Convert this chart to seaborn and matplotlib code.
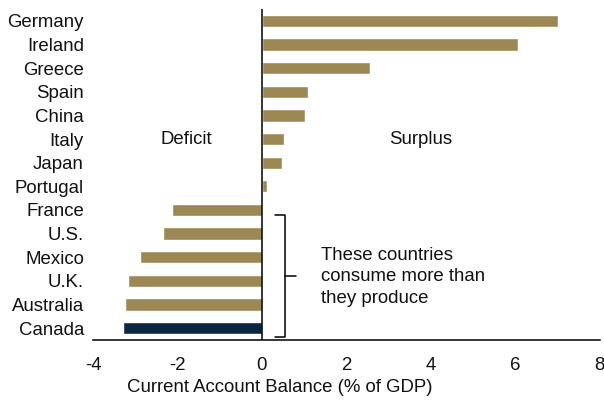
import matplotlib
matplotlib.use("Agg")
import matplotlib.pyplot as plt
import seaborn as sns
import pandas as pd

countries = ["Germany", "Ireland", "Greece", "Spain", "China", "Italy", "Japan",
             "Portugal", "France", "U.S.", "Mexico", "U.K.", "Australia", "Canada"]
balance = [7.0, 6.06, 2.56, 1.09, 1.03, 0.52, 0.48, 0.13,
           -2.12, -2.35, -2.89, -3.18, -3.25, -3.28]
x_ticks = [-4, -2, 0, 2, 4, 6, 8]

gold = "#9C8854"
navy = "#0B2545"

sns.set_theme(style="white")
plt.rcParams["font.family"] = ["Liberation Sans", "DejaVu Sans"]

df = pd.DataFrame({"country": countries, "balance": balance})
palette = {c: (navy if c == "Canada" else gold) for c in countries}

fs = 13.4
fig = plt.figure(figsize=(6.04, 4.0), dpi=100)
ax = fig.add_axes([0.154, 0.15, 0.839, 0.8275])
sns.barplot(data=df, x="balance", y="country", hue="country", palette=palette,
            order=countries, hue_order=countries, width=0.52, legend=False,
            saturation=1, ax=ax)

ax.set_xlim(-4, 8)
ax.set_ylim(13.5, -0.5)
ax.set_xticks(x_ticks)
ax.set_xticklabels([str(t) for t in x_ticks])
ax.axvline(0, color="black", lw=1.1)
for s in ["top", "right", "left"]:
    ax.spines[s].set_visible(False)
ax.spines["bottom"].set_color("black")
ax.spines["bottom"].set_linewidth(1.1)
ax.tick_params(axis="x", length=0, pad=12, labelsize=fs, colors="#111111")
ax.tick_params(axis="y", length=0, pad=6.5, labelsize=fs, colors="#111111")
ax.set_ylabel("")
ax.set_xlabel("Current Account Balance (% of GDP)", fontsize=fs, labelpad=6, color="#111111")
ax.xaxis.set_label_coords(0.369, -0.145)
ax.xaxis.label.set_va("center")

ax.text(-1.78, 5.04, "Deficit", ha="center", va="center", fontsize=fs, color="#111111")
ax.text(3.76, 5.04, "Surplus", ha="center", va="center", fontsize=fs, color="#111111")

# bracket
ax.plot([0.30, 0.54, 0.54, 0.30], [8.2, 8.2, 13.36, 13.36], color="black", lw=1.1,
        solid_joinstyle="round")
ax.plot([0.54, 0.80], [10.79, 10.79], color="black", lw=1.1)
ax.text(1.39, 10.83, "These countries\nconsume more than\nthey produce", ha="left",
        va="center", fontsize=fs, color="#111111", linespacing=1.32)

fig.savefig("out.png", dpi=100)
